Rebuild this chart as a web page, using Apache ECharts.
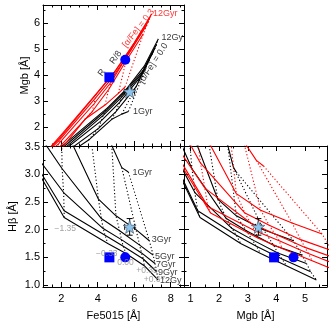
<!DOCTYPE html>
<html><head><meta charset="utf-8">
<script src="https://cdn.jsdelivr.net/npm/echarts@6/dist/echarts.min.js"></script>
<style>html,body{margin:0;padding:0;background:#fff}#c{width:332px;height:327px}</style>
</head><body><div id="c"></div>
<script>
// ---------------- DATA ----------------
const ages = [1, 3, 5, 7, 9, 12];
const metallicities = ['-2.25', '-1.35', '-0.33', '0.00', '+0.35', '+0.67'];
// [alpha/Fe] = 0.0 model grid: rows = ages, columns = metallicities
const fe5015_a00 = [
  [0.3, 1.8, 3.5, 4.77, 5.32, 5.68],
  [0.5, 2.0, 4.04, 5.0, 6.1, 6.83],
  [0.6, 2.05, 4.2, 5.2, 6.3, 7.04],
  [0.7, 2.13, 4.3, 5.3, 6.4, 7.14],
  [0.75, 2.16, 4.4, 5.4, 6.5, 7.23],
  [0.8, 2.16, 4.55, 5.55, 6.55, 7.32]
];
const mgb_a00 = [
  [0.3, 0.7, 1.5, 2.3, 2.5, 2.6],
  [0.4, 0.9, 1.95, 2.6, 3.55, 4.6],
  [0.45, 1.05, 2.25, 2.95, 3.9, 4.9],
  [0.5, 1.15, 2.45, 3.15, 4.05, 5.05],
  [0.55, 1.25, 2.6, 3.3, 4.2, 5.2],
  [0.6, 1.33, 2.75, 3.45, 4.35, 5.4]
];
const hbeta_a00 = [
  [5.5, 5.0, 4.0, 3.52, 3.12, 3.04],
  [4.6, 3.97, 2.55, 2.25, 2.0, 1.80],
  [3.8, 3.1, 2.2, 1.98, 1.72, 1.54],
  [3.3, 2.67, 2.02, 1.82, 1.58, 1.39],
  [3.1, 2.34, 1.9, 1.7, 1.47, 1.24],
  [3.0, 2.22, 1.75, 1.57, 1.35, 1.09]
];
// [alpha/Fe] = 0.3 model grid
const fe5015_a03 = [
  [0.3, 1.6, 3.3, 4.4, 5.13, 5.5],
  [0.5, 1.8, 3.7, 4.6, 5.55, 6.5],
  [0.6, 1.85, 3.8, 4.75, 5.7, 6.7],
  [0.7, 1.9, 3.85, 4.85, 5.85, 6.8],
  [0.75, 1.95, 3.9, 4.9, 5.9, 6.88],
  [0.8, 2.0, 4.0, 5.0, 6.0, 6.96]
];
const mgb_a03 = [
  [0.4, 0.8, 2.3, 2.85, 3.3, 3.55],
  [0.5, 1.15, 2.6, 3.45, 4.55, 5.6],
  [0.6, 1.35, 2.9, 3.75, 4.85, 5.95],
  [0.65, 1.5, 3.1, 3.95, 5.0, 6.1],
  [0.7, 1.6, 3.25, 4.1, 5.12, 6.25],
  [0.75, 1.7, 3.35, 4.2, 5.25, 6.37]
];
const hbeta_a03 = [
  [5.6, 5.1, 4.1, 3.6, 3.25, 3.15],
  [4.7, 4.05, 2.65, 2.35, 2.12, 1.92],
  [3.9, 3.2, 2.3, 2.08, 1.82, 1.62],
  [3.4, 2.75, 2.12, 1.92, 1.68, 1.48],
  [3.2, 2.42, 1.98, 1.8, 1.57, 1.34],
  [3.1, 2.3, 1.85, 1.66, 1.44, 1.2]
];
// observed points
const obsNames = ['R', 'R/8'];
const obsFe5015 = [4.64, 5.51];
const obsMgb = [3.92, 4.6];
const obsHbeta = [1.5, 1.5];
// star with error bars [value, error]
const starFe5015 = [5.75, 0.27];
const starMgb = [3.37, 0.1];
const starHbeta = [2.05, 0.15];
// tick values
const feMajor = [2, 4, 6, 8];
const feMinor = [1.5, 2.5, 3, 3.5, 4.5, 5, 5.5, 6.5, 7, 7.5, 8.5];
const hbMajor = [1.0, 1.5, 2.0, 2.5, 3.0, 3.5];
const hbMinor = [1.25, 1.75, 2.25, 2.75, 3.25];
const mgbTopMajor = [2, 3, 4, 5, 6];
const mgbTopMinor = [1.5, 2.5, 3.5, 4.5, 5.5, 6.5];
const mgbBRMajor = [1, 2, 3, 4, 5];
const mgbBRMinor = [1.5, 2.5, 3.5, 4.5, 5.5];
// annotation texts (anchor in data coords)
const ageLabelsFeHb = [['1Gyr', 5.9, 3.04], ['3Gyr', 6.96, 1.82], ['5Gyr', 7.14, 1.52], ['7Gyr', 7.19, 1.37], ['9Gyr', 7.3, 1.23], ['12Gyr', 7.41, 1.09]];
const zLabelsFeHb = [['\u22121.35', 2.22, 2.01], ['\u22120.33', 4.5, 1.57], ['0.00', 5.52, 1.40], ['+0.35', 6.7, 1.26], ['+0.67', 7.11, 1.09]];

// ---------------- CHART ----------------
const FONT = 'Liberation Sans, Arial, Helvetica, sans-serif';
const grids = [
  {left: 43, top: 5, width: 141, height: 141},
  {left: 43, top: 146, width: 141, height: 141},
  {left: 184, top: 146, width: 143, height: 141}
];
const ranges = {
  fe: [1.0, 8.73], mgbTop: [1.27, 6.71], hb: [0.965, 3.51], mgbBR: [0.77, 5.77]
};
const xAxes = [], yAxes = [];
function axis(g, pos, rng, ticks, minor, labels, fmt, margin) {
  return {
    type: 'value', gridIndex: g, position: pos, min: rng[0], max: rng[1],
    axisLine: {show: !minor, onZero: false, lineStyle: {color: '#000', width: 1}},
    axisTick: {show: true, inside: true, length: minor ? 2.5 : 5, customValues: ticks, lineStyle: {color: '#000', width: 1}},
    axisLabel: labels ? {show: true, customValues: labels, formatter: fmt, color: '#000', fontSize: 11, fontFamily: FONT, margin: margin} : {show: false},
    splitLine: {show: false}, minorTick: {show: false}
  };
}
const fmt0 = v => String(Math.round(v));
const fmt1 = v => v.toFixed(1);
function addX(g, rng, major, minor, labeled, fmt) {
  xAxes.push(axis(g, 'bottom', rng, major, false, labeled ? major : null, fmt, 6));
  xAxes.push(axis(g, 'bottom', rng, minor, true));
  xAxes.push(axis(g, 'top', rng, major, false));
  xAxes.push(axis(g, 'top', rng, minor, true));
}
function addY(g, rng, major, minor, labeled, fmt) {
  yAxes.push(axis(g, 'left', rng, major, false, labeled ? major : null, fmt, 3));
  yAxes.push(axis(g, 'left', rng, minor, true));
  yAxes.push(axis(g, 'right', rng, major, false));
  yAxes.push(axis(g, 'right', rng, minor, true));
}
addX(0, ranges.fe, feMajor, feMinor, false);
addY(0, ranges.mgbTop, mgbTopMajor, mgbTopMinor, true, fmt0);
addX(1, ranges.fe, feMajor, feMinor, true, fmt0);
addY(1, ranges.hb, hbMajor, hbMinor, true, fmt1);
addX(2, ranges.mgbBR, mgbBRMajor, mgbBRMinor, true, fmt0);
addY(2, ranges.hb, hbMajor, hbMinor, false);

yAxes[0].name = 'Mgb [\u00c5]'; yAxes[0].nameLocation = 'middle'; yAxes[0].nameGap = 11;
yAxes[4].name = 'H\u03b2 [\u00c5]'; yAxes[4].nameLocation = 'middle'; yAxes[4].nameGap = 25;
xAxes[4].name = 'Fe5015 [\u00c5]'; xAxes[4].nameLocation = 'middle'; xAxes[4].nameGap = 23;
xAxes[8].name = 'Mgb [\u00c5]'; xAxes[8].nameLocation = 'middle'; xAxes[8].nameGap = 23;
[yAxes[0], yAxes[4], xAxes[4], xAxes[8]].forEach(a => a.nameTextStyle = {color: '#000', fontSize: 11, fontFamily: FONT});

const series = [];
const grid3 = {
  fe: [fe5015_a00, fe5015_a03], mgb: [mgb_a00, mgb_a03], hb: [hbeta_a00, hbeta_a03]
};
function modelLines(g, xk, yk, alphaIdx, color) {
  const X = grid3[xk][alphaIdx], Y = grid3[yk][alphaIdx];
  ages.forEach((age, a) => {
    series.push({
      type: 'line', xAxisIndex: 4 * g, yAxisIndex: 4 * g, symbol: 'none', silent: true, clip: true,
      data: metallicities.map((m, k) => [X[a][k], Y[a][k]]),
      lineStyle: {color: color, width: 1.1}, z: 2 + alphaIdx
    });
  });
  metallicities.forEach((m, k) => {
    series.push({
      type: 'line', xAxisIndex: 4 * g, yAxisIndex: 4 * g, symbol: 'none', silent: true, clip: true,
      data: ages.map((age, a) => [X[a][k], Y[a][k]]),
      lineStyle: {color: color, width: 1.1, type: [1.2, 2.2]}, z: 2 + alphaIdx
    });
  });
}
modelLines(0, 'fe', 'mgb', 0, '#000');
modelLines(0, 'fe', 'mgb', 1, '#ff0000');
modelLines(1, 'fe', 'hb', 0, '#000');
modelLines(2, 'mgb', 'hb', 0, '#000');
modelLines(2, 'mgb', 'hb', 1, '#ff0000');

const obs = {fe: obsFe5015, mgb: obsMgb, hb: obsHbeta};
const star = {fe: starFe5015, mgb: starMgb, hb: starHbeta};
const STAR = 'path://M0,-10L2.35,-3.24L9.51,-3.09L3.8,1.24L5.88,8.09L0,4L-5.88,8.09L-3.8,1.24L-9.51,-3.09L-2.35,-3.24Z';
[[0, 'fe', 'mgb'], [1, 'fe', 'hb'], [2, 'mgb', 'hb']].forEach(([g, xk, yk]) => {
  series.push({
    type: 'custom', xAxisIndex: 4 * g, yAxisIndex: 4 * g, silent: true, z: 10,
    data: [[star[xk][0], star[yk][0], star[xk][1], star[yk][1]]],
    renderItem: function (params, api) {
      const x = api.value(0), y = api.value(1), ex = api.value(2), ey = api.value(3);
      const p0 = api.coord([x - ex, y]), p1 = api.coord([x + ex, y]);
      const q0 = api.coord([x, y - ey]), q1 = api.coord([x, y + ey]);
      const c = 3, st = {stroke: '#000', lineWidth: 1};
      const L = (a, b, cc, d) => ({type: 'line', shape: {x1: a, y1: b, x2: cc, y2: d}, style: st});
      return {type: 'group', children: [
        L(p0[0], p0[1], p1[0], p1[1]), L(q0[0], q0[1], q1[0], q1[1]),
        L(q0[0] - c, q0[1], q0[0] + c, q0[1]), L(q1[0] - c, q1[1], q1[0] + c, q1[1]),
        L(p0[0], p0[1] - c, p0[0], p0[1] + c), L(p1[0], p1[1] - c, p1[0], p1[1] + c)
      ]};
    }
  });
  series.push({
    type: 'scatter', xAxisIndex: 4 * g, yAxisIndex: 4 * g, silent: true, z: 11,
    data: [[star[xk][0], star[yk][0]]], symbol: STAR, symbolSize: 13,
    itemStyle: {color: '#8cc4ee', borderColor: '#4a5a6a', borderWidth: 0.7, opacity: 1}
  });
  series.push({
    type: 'scatter', xAxisIndex: 4 * g, yAxisIndex: 4 * g, silent: true, z: 12,
    data: [{value: [obs[xk][0], obs[yk][0]], symbol: 'rect'}, {value: [obs[xk][1], obs[yk][1]], symbol: 'circle'}],
    symbolSize: 10, itemStyle: {color: '#0000ff', opacity: 1}
  });
});

function textSeries(g, items) {
  series.push({
    type: 'scatter', xAxisIndex: 4 * g, yAxisIndex: 4 * g, silent: true, z: 20, clip: false,
    symbolSize: 0.01, itemStyle: {color: 'rgba(0,0,0,0)'},
    data: items.map(it => ({
      value: [it.x, it.y],
      label: Object.assign({show: true, formatter: it.t, fontFamily: FONT, fontSize: 9, color: it.c || '#000',
        position: it.pos || 'inside', distance: 0, rotate: it.r || 0}, it.extra || {})
    }))
  });
}
textSeries(1, ageLabelsFeHb.map(([t, x, y]) => ({t, x, y, pos: 'right',
  extra: t === '12Gyr' ? {width: 23, overflow: 'truncate', ellipsis: ''} : {}})));
textSeries(1, zLabelsFeHb.map(([t, x, y]) => ({t, x, y, c: '#8a8a8a', extra: {fontSize: 8.5}})));
textSeries(0, [
  {t: '12Gyr', x: 7.03, y: 6.37, pos: 'right', c: '#ff0000'},
  {t: '12Gyr', x: 7.5, y: 5.45, pos: 'right', extra: {width: 23, overflow: 'truncate', ellipsis: ''}},
  {t: '1Gyr', x: 5.93, y: 2.59, pos: 'right'},
  {t: '[\u03b1/Fe] = 0.3', x: 6.23, y: 5.81, r: 52, c: '#ff0000'},
  {t: '[\u03b1/Fe] = 0.0', x: 7.05, y: 4.46, r: 57},
  {t: obsNames[1], x: 4.99, y: 4.69, r: 55},
  {t: obsNames[0], x: 4.22, y: 4.1, r: 55}
]);

const chart = echarts.init(document.getElementById('c'), null, {renderer: 'canvas'});
chart.setOption({
  animation: false, backgroundColor: '#fff',
  grid: grids, xAxis: xAxes, yAxis: yAxes, series: series
});
</script></body></html>
